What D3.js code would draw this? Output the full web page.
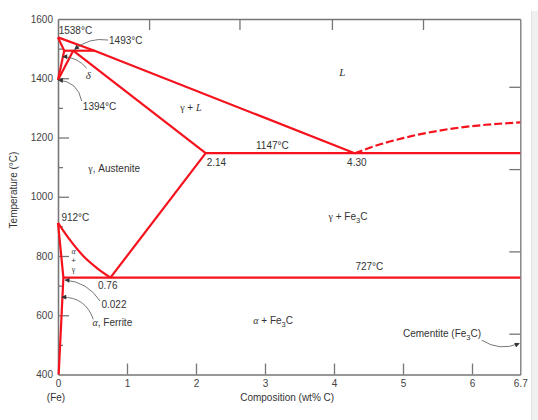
<!DOCTYPE html>
<html>
<head>
<meta charset="utf-8">
<script src="https://cdn.jsdelivr.net/npm/d3@7"></script>
<style>
  body { margin: 0; background: #fff; }
  svg { display: block; }
  text { font-family: "Liberation Sans", Arial, sans-serif; font-size: 10px; fill: #333; }
  .greek { font-family: "Liberation Serif", "DejaVu Serif", serif; }
  .axis path, .axis line { stroke: #767676; stroke-width: 1.3px; }
  .axis text { fill: #444; font-size: 10px; }
</style>
</head>
<body>
<div id="chart"></div>
<script>
// Fe-Fe3C phase diagram, composition (wt% C) vs temperature (C)

// phase boundaries [wt% C, temperature]
const liquidus = [[0, 1538], [0.53, 1493], [4.30, 1147]];
const liquidusCementite = [[4.30, 1147], [4.67, 1177], [5.0, 1198], [5.68, 1229], [6.2, 1243], [6.7, 1251]];
const deltaSolidus = [[0, 1538], [0.09, 1493]];
const peritectic = [[0.09, 1493], [0.53, 1493]];
const deltaSolvus = [[0, 1394], [0.09, 1493]];
const gammaDelta = [[0, 1394], [0.22, 1493]];
const gammaSolidus = [[0.22, 1493], [2.14, 1147]];
const eutectic = [[2.14, 1147], [6.7, 1147]];
const acm = [[0.76, 727], [2.14, 1147]];
const a3 = [[0, 912], [0.17, 855], [0.37, 799], [0.56, 760], [0.76, 727]];
const alphaBoundary = [[0, 912], [0.078, 727], [0.01, 400]];
const eutectoid = [[0.078, 727], [6.7, 727]];

// ticks
const xTicks = [0, 1, 2, 3, 4, 5, 6, 6.7];
const yTicks = [400, 600, 800, 1000, 1200, 1400, 1600];
const yMinor = [500, 700, 900, 1100, 1300, 1500];
const topTicks = [1.32, 2.63, 3.97, 5.29];      // unlabeled ticks on top edge
const rightTicksF = [1000, 1500, 2000, 2500];   // unlabeled ticks on right edge, in F

// text labels [wt% C, temperature]
const labels = [
    {t: "1538°C", p: [0.01, 1549]},
    {t: "1493°C", p: [0.74, 1517]},
    {t: "δ", p: [0.44, 1399], greek: true, italic: true, anchor: "middle", size: 11},
    {t: "1394°C", p: [0.36, 1293]},
    {t: "L", p: [4.12, 1409], greek: true, italic: true, anchor: "middle", size: 11},
    {t: "1147°C", p: [2.87, 1161]},
    {t: "2.14", p: [2.155, 1104]},
    {t: "4.30", p: [4.19, 1104]},
    {t: "912°C", p: [0.05, 919]},
    {t: "727°C", p: [4.31, 754]},
    {t: "0.76", p: [0.58, 690]},
    {t: "0.022", p: [0.63, 625]}
];

// stacked alpha + gamma label
const stackLabel = {p: [0.225, 808], lines: [["α", "gi"], ["+", ""], ["γ", "g"]]};

// mixed labels built from pieces
const richLabels = [
    {p: [1.77, 1288], parts: [["γ", "g"], [" + ", ""], ["L", "gi"]]},
    {p: [0.44, 1085], parts: [["γ", "g"], [", Austenite", ""]]},
    {p: [3.92, 921], parts: [["γ", "g"], [" + Fe", ""], ["3", "sub"], ["C", ""]]},
    {p: [0.5, 564], parts: [["α", "gi"], [", Ferrite", ""]]},
    {p: [2.83, 569], parts: [["α", "gi"], [" + Fe", ""], ["3", "sub"], ["C", ""]]},
    {p: [5.0, 516], parts: [["Cementite (Fe", ""], ["3", "sub"], ["C)", ""]]}
];

// leader arrows [from, to], bend in px
const arrows = [
    {from: [0.725, 1529], to: [0.24, 1497], bend: -4},
    {from: [0.415, 1434], to: [0.068, 1473], bend: -3},
    {from: [0.343, 1323], to: [0.005, 1394], bend: -6},
    {from: [0.609, 648], to: [0.101, 719], bend: -5},
    {from: [0.512, 586], to: [0.054, 661], bend: -7},
    {from: [6.14, 516], to: [6.685, 505], bend: -5}
];

const width = 538;
const height = 420;
const red = "#f5121c";

const x = d3.scaleLinear().domain([0, 6.7]).range([58, 520.3]);
const y = d3.scaleLinear().domain([400, 1600]).range([374.5, 19]);

const svg = d3.select("#chart")
    .append("svg")
    .attr("width", width)
    .attr("height", height);

// scrollbar strip at the right edge
svg.append("rect")
    .attr("x", 531).attr("y", 11)
    .attr("width", 7).attr("height", height - 11)
    .attr("fill", "#f0f0f0");
svg.append("line")
    .attr("x1", 531.5).attr("x2", 531.5)
    .attr("y1", 11).attr("y2", height)
    .attr("stroke", "#e2e2e2");

// Axes
svg.append("g")
    .attr("class", "axis")
    .attr("transform", "translate(" + x(0) + ",0)")
    .call(d3.axisLeft(y).tickValues(yTicks).tickSizeInner(-11).tickSizeOuter(0).tickPadding(5)
        .tickFormat(d3.format("d")));

svg.append("g")
    .attr("class", "axis")
    .attr("transform", "translate(" + x(0) + ",0)")
    .call(d3.axisLeft(y).tickValues(yMinor).tickSizeInner(-5).tickSizeOuter(0).tickFormat(""));

svg.append("g")
    .attr("class", "axis")
    .attr("transform", "translate(0," + y(400) + ")")
    .call(d3.axisBottom(x).tickValues(xTicks).tickSizeInner(-11).tickSizeOuter(0).tickPadding(5)
        .tickFormat(d => d === 6.7 ? "6.7" : d3.format("d")(d)));

svg.append("g")
    .attr("class", "axis")
    .attr("transform", "translate(0," + y(1600) + ")")
    .call(d3.axisTop(x).tickValues(topTicks).tickSizeInner(-11).tickSizeOuter(0).tickFormat(""));

svg.append("g")
    .attr("class", "axis")
    .attr("transform", "translate(" + x(6.7) + ",0)")
    .call(d3.axisRight(y).tickValues(rightTicksF.map(f => (f - 32) * 5 / 9))
        .tickSizeInner(-11).tickSizeOuter(0).tickFormat(""));

// hide the ticks that land on the corners
svg.selectAll(".axis .tick line").filter(d => d === 0 || d === 6.7 || d === 400 || d === 1600).remove();

// axis titles
svg.append("text")
    .attr("transform", "translate(13," + 190 + ") rotate(-90)")
    .attr("text-anchor", "middle")
    .attr("dy", "0.35em")
    .text("Temperature (°C)");

svg.append("text")
    .attr("x", (x(0) + x(6.7)) / 2 - 2)
    .attr("y", 401)
    .attr("text-anchor", "middle")
    .text("Composition (wt% C)");

svg.append("text")
    .attr("x", x(0) - 2)
    .attr("y", 401)
    .attr("text-anchor", "middle")
    .text("(Fe)");

// Phase boundaries
const line = d3.line().x(d => x(d[0])).y(d => y(d[1]));
const curve = d3.line().curve(d3.curveMonotoneX).x(d => x(d[0])).y(d => y(d[1]));

[liquidus, deltaSolidus, peritectic, deltaSolvus, gammaDelta, gammaSolidus,
    eutectic, acm, alphaBoundary, eutectoid].forEach(function(pts) {
    svg.append("path")
        .datum(pts)
        .attr("fill", "none")
        .attr("stroke", red)
        .attr("stroke-width", 2.2)
        .attr("stroke-linejoin", "round")
        .attr("d", line);
});

svg.append("path")
    .datum(a3)
    .attr("fill", "none")
    .attr("stroke", red)
    .attr("stroke-width", 2.2)
    .attr("d", curve);

svg.append("path")
    .datum(liquidusCementite)
    .attr("fill", "none")
    .attr("stroke", red)
    .attr("stroke-width", 2.2)
    .attr("stroke-dasharray", "8,3")
    .attr("d", curve);

// Arrows
svg.append("defs").append("marker")
    .attr("id", "head")
    .attr("viewBox", "0 0 10 10")
    .attr("refX", 9).attr("refY", 5)
    .attr("markerWidth", 6).attr("markerHeight", 5)
    .attr("markerUnits", "userSpaceOnUse")
    .attr("orient", "auto")
    .append("path")
    .attr("d", "M0,0L10,5L0,10z")
    .attr("fill", "#333");

arrows.forEach(function(a) {
    const x1 = x(a.from[0]), y1 = y(a.from[1]);
    const x2 = x(a.to[0]), y2 = y(a.to[1]);
    const dx = x2 - x1, dy = y2 - y1;
    const len = Math.sqrt(dx * dx + dy * dy);
    const cx = (x1 + x2) / 2 + dy / len * a.bend * 2;
    const cy = (y1 + y2) / 2 - dx / len * a.bend * 2;
    svg.append("path")
        .attr("d", "M" + x1 + "," + y1 + "Q" + cx + "," + cy + " " + x2 + "," + y2)
        .attr("fill", "none")
        .attr("stroke", "#555")
        .attr("stroke-width", 0.8)
        .attr("marker-end", "url(#head)");
});

// Labels
labels.forEach(function(l) {
    const t = svg.append("text")
        .attr("x", x(l.p[0]))
        .attr("y", y(l.p[1]))
        .attr("text-anchor", l.anchor || "start")
        .text(l.t);
    if (l.greek) t.attr("class", "greek");
    if (l.italic) t.style("font-style", "italic");
    if (l.size) t.style("font-size", l.size + "px");
});

// stacked label as one text block
const stack = svg.append("text")
    .attr("x", x(stackLabel.p[0]))
    .attr("y", y(stackLabel.p[1]))
    .attr("text-anchor", "middle")
    .style("font-size", "8px");
stackLabel.lines.forEach(function(p, i) {
    const s = stack.append("tspan")
        .attr("x", x(stackLabel.p[0]))
        .attr("dy", i === 0 ? 0 : 9.2)
        .text(p[0]);
    if (p[1] === "g" || p[1] === "gi") s.attr("class", "greek");
    if (p[1] === "gi") s.style("font-style", "italic");
});

richLabels.forEach(function(l) {
    const t = svg.append("text")
        .attr("x", x(l.p[0]))
        .attr("y", y(l.p[1]));
    l.parts.forEach(function(p) {
        const s = t.append("tspan").text(p[0]);
        if (p[1] === "g" || p[1] === "gi") s.attr("class", "greek");
        if (p[1] === "gi") s.style("font-style", "italic");
        if (p[1] === "sub") {
            s.attr("dy", 3).style("font-size", "7.5px");
        }
        if (p[1] === "" && p[0].startsWith("C")) s.attr("dy", -3);
    });
});
</script>
</body>
</html>
